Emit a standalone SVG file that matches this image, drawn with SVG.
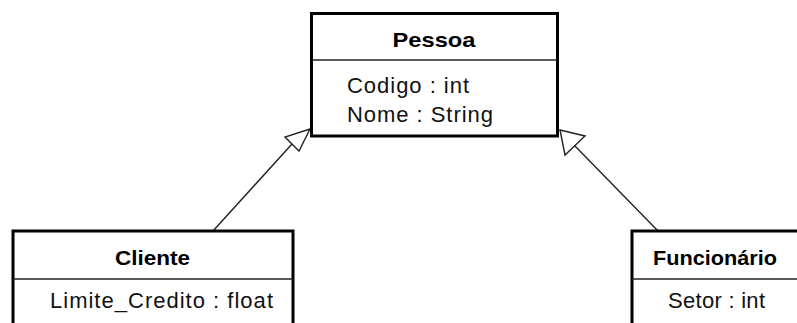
<svg xmlns="http://www.w3.org/2000/svg" width="797" height="323" viewBox="0 0 797 323">
  <style>
    .box { fill: #ffffff; stroke: #000000; stroke-width: 3; }
    .div { stroke: #222222; stroke-width: 1.6; fill: none; }
    .name { font-family: "Liberation Sans", Arial, sans-serif; font-size: 21px; font-weight: bold; fill: #000000; text-anchor: middle; }
    .attr { font-family: "Liberation Sans", Arial, sans-serif; font-size: 22px; fill: #111111; }
    .link { stroke: #222222; stroke-width: 1.4; fill: none; }
    .head { fill: #ffffff; stroke: #222222; stroke-width: 1.4; stroke-linejoin: miter; }
  </style>
  <rect width="797" height="323" fill="#ffffff"/>

  <!-- generalization connectors -->
  <g id="connectors">
    <line class="link" x1="213" y1="231" x2="292" y2="144"/>
    <polygon class="head" points="310,129 285,137 299,151"/>
    <line class="link" x1="658" y1="231" x2="575" y2="146"/>
    <polygon class="head" points="560,130 585,136 565,155"/>
  </g>

  <g id="pessoa">
    <rect class="box" x="311.5" y="13.5" width="246" height="122.5"/>
    <line class="div" x1="311.5" y1="60" x2="557.5" y2="60"/>
    <text class="name" x="434" y="47" textLength="83" lengthAdjust="spacingAndGlyphs">Pessoa</text>
    <text class="attr" x="347" y="93" textLength="122" lengthAdjust="spacing">Codigo : int</text>
    <text class="attr" x="347" y="122" textLength="146" lengthAdjust="spacing">Nome : String</text>
  </g>

  <g id="cliente">
    <rect class="box" x="13" y="231" width="280" height="110"/>
    <line class="div" x1="13" y1="279" x2="293" y2="279"/>
    <text class="name" x="152.5" y="265" textLength="75" lengthAdjust="spacingAndGlyphs">Cliente</text>
    <text class="attr" x="50" y="308" textLength="223" lengthAdjust="spacing">Limite_Credito : float</text>
  </g>

  <g id="funcionario">
    <rect class="box" x="632" y="231" width="170" height="110"/>
    <line class="div" x1="632" y1="279" x2="802" y2="279"/>
    <text class="name" x="715" y="265" textLength="124" lengthAdjust="spacingAndGlyphs">Funcionário</text>
    <text class="attr" x="668" y="308" textLength="97" lengthAdjust="spacing">Setor : int</text>
  </g>
</svg>
